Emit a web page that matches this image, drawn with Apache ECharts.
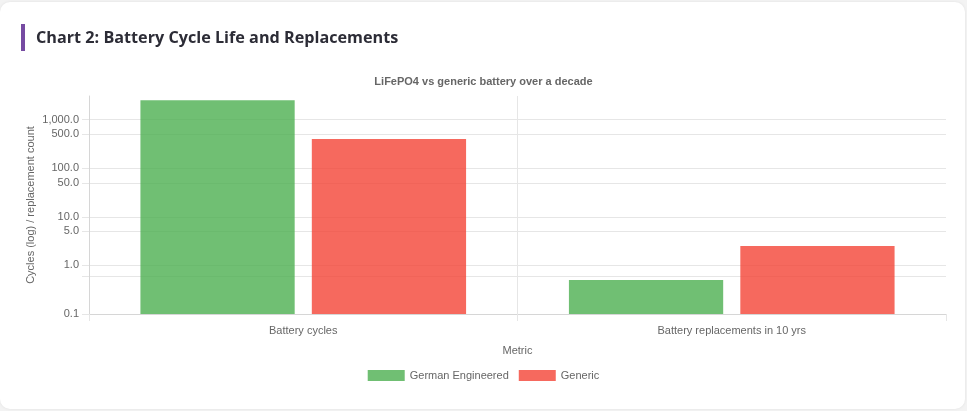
<!DOCTYPE html>
<html lang="en">
  <head>
    <meta charset="UTF-8" />
    <title>Battery Cycle Life and Replacements</title>
    <script src="https://cdn.jsdelivr.net/npm/echarts@6/dist/echarts.min.js"></script>
    <style>
      html, body {
        margin: 0;
        padding: 0;
        background: #f3f3f3;
      }
      .card {
        position: absolute;
        left: 0;
        top: 2px;
        width: 965px;
        height: 407px;
        background: #fff;
        border-radius: 10px;
        box-shadow: 0 0 3px rgba(0, 0, 0, 0.08);
      }
      h2 {
        position: absolute;
        left: 21px;
        top: 24px;
        margin: 0;
        padding-left: 11px;
        border-left: 4px solid #764ba2;
        font-family: "Open Sans", sans-serif;
        font-weight: 700;
        font-size: 16.2px;
        line-height: 27px;
        color: #2c2c36;
      }
      #main {
        position: absolute;
        left: 0;
        top: 0;
        width: 967px;
        height: 411px;
      }
    </style>
  </head>
  <body>
    <div class="card"></div>
    <div id="main"></div>
    <h2>Chart 2: Battery Cycle Life and Replacements</h2>
    <script>
      // data
      const metrics = ["Battery cycles", "Battery replacements in 10 yrs"]
      const seriesNames = ["German Engineered", "Generic"]
      const germanValues = [2500, 0.5]
      const genericValues = [400, 2.5]
      const yLabelValues = [0.1, 1, 5, 10, 50, 100, 500, 1000]
      const yGridValues = [0.1, 0.6, 1, 5, 10, 50, 100, 500, 1000]
      const axisMin = 0.1

      const chart = echarts.init(document.getElementById("main"))
      const font = "'Liberation Sans', Arial, sans-serif"
      const gridColor = "#e6e6e6"
      const colors = ["rgba(76, 175, 80, 0.8)", "rgba(244, 67, 54, 0.8)"]

      // log axis bars start at 1 in echarts, so draw them from the axis min by hand
      function barItem(params, api) {
        const cat = api.value(0)
        const top = api.coord([cat, api.value(1)])
        const base = api.coord([cat, axisMin])
        const band = api.size([1, 0])[0]
        const bw = band * 0.36
        const gap = band * 0.04
        const x = top[0] - (bw * 2 + gap) / 2 + params.seriesIndex * (bw + gap)
        return {
          type: "rect",
          shape: { x: x, y: top[1], width: bw, height: base[1] - top[1] },
          style: api.style(),
        }
      }

      chart.setOption({
        animation: false,
        color: colors,
        textStyle: { fontFamily: font },
        title: {
          text: "LiFePO4 vs generic battery over a decade",
          left: "center",
          top: 71,
          textStyle: { fontSize: 11, fontWeight: "bold", color: "#666", fontFamily: font },
        },
        legend: {
          bottom: 25,
          left: "center",
          itemWidth: 37,
          itemHeight: 11,
          itemGap: 10,
          icon: "rect",
          textStyle: { fontSize: 11, color: "#666" },
          data: seriesNames,
        },
        grid: { left: 89, right: 21, top: 96, bottom: 97, containLabel: false },
        xAxis: {
          type: "category",
          data: metrics,
          name: "Metric",
          nameLocation: "middle",
          nameGap: 31,
          nameTextStyle: { fontSize: 11, color: "#666" },
          axisLine: { lineStyle: { color: "#d6d6d6" } },
          axisTick: { show: true, length: 7, lineStyle: { color: gridColor } },
          axisLabel: { fontSize: 11, color: "#666", margin: 11 },
          splitLine: { show: true, showMaxLine: false, lineStyle: { color: gridColor } },
        },
        yAxis: {
          type: "log",
          logBase: 10,
          min: axisMin,
          max: 3050,
          name: "Cycles (log) / replacement count",
          nameLocation: "middle",
          nameGap: 53,
          nameMoveOverlap: false,
          nameTextStyle: { fontSize: 11, color: "#666" },
          axisLine: { show: true, lineStyle: { color: "#d6d6d6" } },
          axisTick: { show: true, length: 7, customValues: yGridValues, lineStyle: { color: gridColor } },
          axisLabel: {
            fontSize: 11,
            color: "#666",
            margin: 10,
            customValues: yLabelValues,
            formatter: (v) =>
              Number(v).toLocaleString("en-US", { minimumFractionDigits: 1, maximumFractionDigits: 1 }),
          },
          splitLine: { show: true, lineStyle: { color: gridColor } },
        },
        series: [
          {
            name: seriesNames[0],
            type: "custom",
            renderItem: barItem,
            encode: { x: 0, y: 1 },
            data: germanValues.map((v, i) => [i, v]),
          },
          {
            name: seriesNames[1],
            type: "custom",
            renderItem: barItem,
            encode: { x: 0, y: 1 },
            data: genericValues.map((v, i) => [i, v]),
          },
        ],
      })
    </script>
  </body>
</html>
